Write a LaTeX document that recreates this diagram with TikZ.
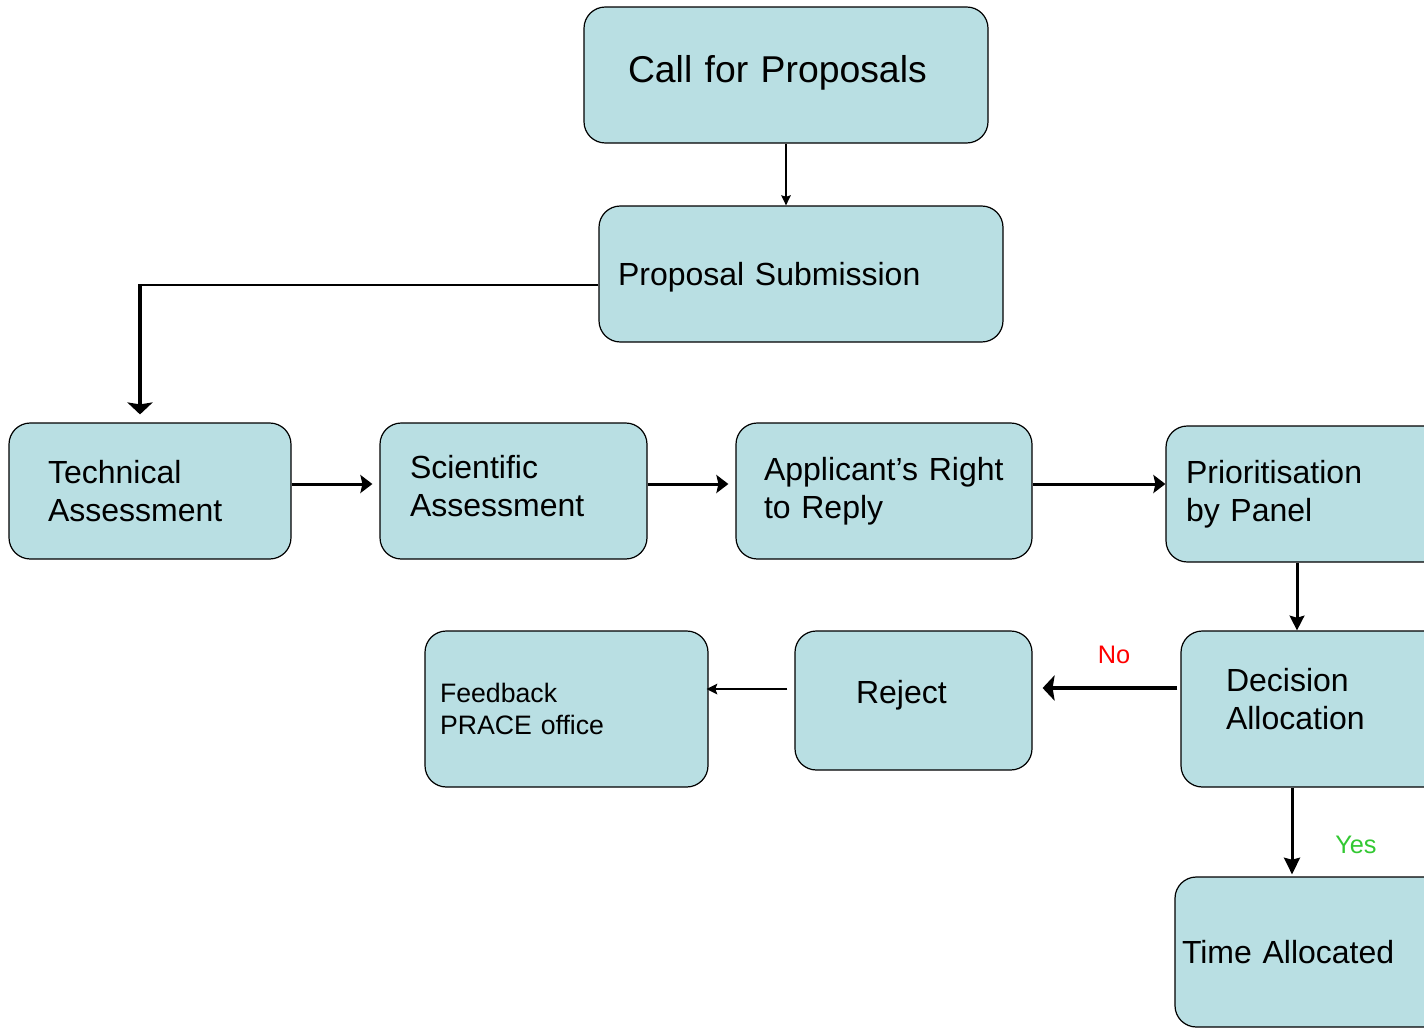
\documentclass[tikz,border=0pt]{standalone}
\usepackage{fontspec}
\setmainfont{Liberation Sans}
\usetikzlibrary{arrows.meta}
\definecolor{boxblue}{RGB}{185,223,227}
\definecolor{yesgreen}{RGB}{50,200,50}

\tikzset{
  stage/.style={draw, line width=0.9pt, fill=boxblue, rounded corners=16pt, align=left, inner ysep=0pt, minimum height=102pt, font=\fontsize{24}{28.5}\selectfont},
  link/.style={line width=2.25pt, -{Stealth[length=9pt,width=13.5pt,inset=1.5pt]}},
  thinlink/.style={line width=1.5pt, -{Stealth[length=7.5pt,width=7pt,inset=1pt]}},
  boldlink/.style={line width=3.5pt, -{Stealth[length=9pt,width=19pt,inset=1.5pt]}},
  answer/.style={font=\fontsize{19}{22}\selectfont}
}

\begin{document}
\begin{tikzpicture}[x=0.75pt,y=-0.75pt]
\useasboundingbox (0,0) rectangle (1424,1028);
\clip (0,0) rectangle (1424,1028);

% boxes
\node[stage, font=\fontsize{28}{33}\selectfont, text width=237pt, inner xsep=33pt, text depth=9.5pt] (call) at (786,75) {Call for Proposals};
\node[stage, text width=274.5pt, inner xsep=14.25pt, text depth=0pt] (submit) at (801,274) {Proposal Submission};

\node[stage, text width=153pt, inner xsep=29.25pt] (tech) at (150,491) {Technical\\Assessment};
\node[stage, text width=155.25pt, inner xsep=22.5pt, text depth=36pt] (sci) at (513.5,491) {Scientific\\Assessment};
\node[stage, text width=180pt, inner xsep=21pt] (reply) at (884,491) {Applicant’s Right\\to Reply};
\node[stage, text width=183pt, inner xsep=15pt] (prior) at (1308,494) {Prioritisation\\by Panel};

\node[stage, text width=144pt, inner xsep=33.75pt, minimum height=117pt, text depth=43.5pt] (decide) at (1322,709) {Decision\\Allocation};
\node[stage, text width=86.25pt, inner xsep=45.75pt, minimum height=104.25pt, text depth=12.5pt] (reject) at (913.5,700.5) {Reject};
\node[stage, font=\fontsize{20}{24}\selectfont, text width=189.75pt, inner xsep=11.25pt, minimum height=117pt] (feedback) at (566.5,709) {Feedback\\PRACE office};
\node[stage, text width=202.5pt, inner xsep=5.25pt, minimum height=112.5pt] (time) at (1317,952) {Time Allocated};

% connectors
\draw[thinlink] (call.south) -- (call.south |- submit.north);

\coordinate (bend) at (140,285);
\draw[line width=1.5pt] ([yshift=-8.25pt]submit.west) -- ([xshift=-1.5pt]bend);
\draw[line width=3pt, -{Stealth[length=9pt,width=19pt,inset=1.5pt]}] (bend) -- ([yshift=6pt]bend |- tech.north);

\draw[link] ([yshift=5.25pt]tech.east) -- ([yshift=5.25pt,xshift=-5.25pt]tech.east -| sci.west);
\draw[link] ([yshift=5.25pt]sci.east) -- ([yshift=5.25pt,xshift=-5.25pt]sci.east -| reply.west);
\draw[link] ([yshift=5.25pt]reply.east) -- ([yshift=5.25pt]reply.east -| prior.west);
\draw[link, -{Stealth[length=11pt,width=11pt,inset=1.5pt]}] ([xshift=-8.25pt]prior.south) -- ([xshift=-8.25pt]prior.south |- decide.north);

\draw[boldlink] ([yshift=15.75pt,xshift=-2.25pt]decide.west) -- ([yshift=15.75pt,xshift=7.5pt]decide.west -| reject.east)
  node[answer, red, pos=0.47, above=13pt] {No};
\draw[thinlink, -{Stealth[length=8pt,width=8pt,inset=1.5pt]}] ([yshift=8.6pt,xshift=-5.25pt]reject.west) -- ([yshift=8.6pt,xshift=-1.5pt]reject.west -| feedback.east);
\draw[link, -{Stealth[length=12.5pt,width=12pt,inset=1.5pt]}] ([xshift=-22.5pt]decide.south) -- ([xshift=-22.5pt,yshift=1.5pt]decide.south |- time.north)
  node[answer, yesgreen, pos=0.66, right=28pt] {Yes};
\end{tikzpicture}
\end{document}
